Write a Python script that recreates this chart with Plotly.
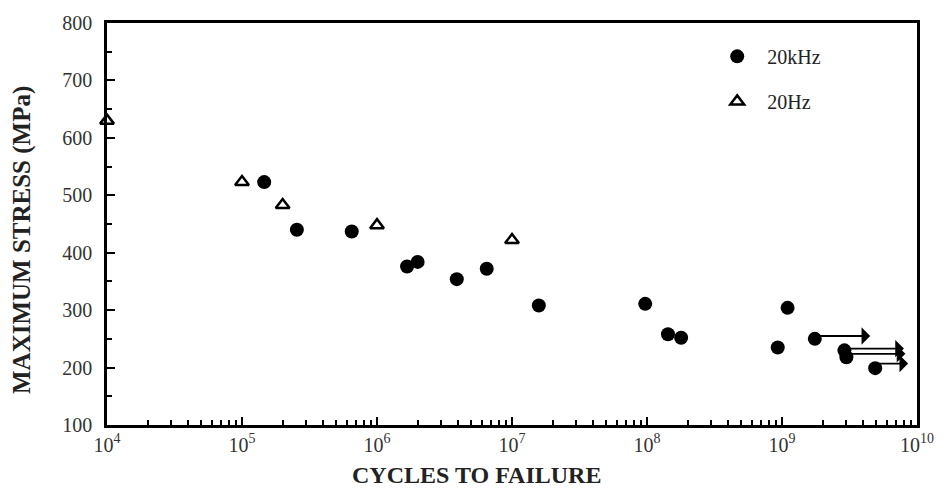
import plotly.graph_objects as go
import math

# ---- data ----
x_20khz = [1.46e5, 2.55e5, 6.5e5, 1.67e6, 2.0e6, 3.9e6, 6.5e6, 1.58e7, 9.7e7,
           1.43e8, 1.79e8, 9.3e8, 1.1e9, 1.75e9, 2.9e9, 3.0e9, 4.9e9]
y_20khz = [523, 440, 437, 376, 384, 354, 372, 308, 311,
           258, 252, 235, 304, 250, 230, 218, 199]

x_20hz = [1e4, 1e5, 2e5, 1e6, 1e7]
y_20hz = [630, 523, 483, 448, 422]

# run-outs (specimens not failed): arrow start / end cycles and stress
runout_x_start = [1.75e9, 2.9e9, 3.0e9, 4.9e9]
runout_x_end = [4.5e9, 8.0e9, 8.2e9, 8.6e9]
runout_y = [255, 233, 224, 207]

x_decades = [4, 5, 6, 7, 8, 9, 10]
x_ticktext = ["10<sup>%d</sup>" % d for d in x_decades]
y_ticks = [100, 200, 300, 400, 500, 600, 700, 800]

FONT = "Liberation Serif"

fig = go.Figure()
fig.add_trace(go.Scatter(
    x=x_20khz, y=y_20khz, mode="markers", name="20kHz",
    marker=dict(symbol="circle", size=14, color="black"),
    cliponaxis=False, legend="legend", showlegend=True))
fig.add_trace(go.Scatter(
    x=x_20hz, y=y_20hz, mode="markers", name="20Hz",
    marker=dict(symbol="triangle-up-open", size=12, color="black",
                line=dict(width=2.5, color="black")),
    cliponaxis=False, legend="legend2", showlegend=True))

annotations = []
for xs, xe, yv in zip(runout_x_start, runout_x_end, runout_y):
    annotations.append(dict(
        x=math.log10(xe), y=yv, ax=math.log10(xs), ay=yv,
        xref="x", yref="y", axref="x", ayref="y",
        showarrow=True, arrowhead=1, arrowsize=1.6, arrowwidth=1.8,
        arrowcolor="black", text=""))

annotations.append(dict(
    text="<b>CYCLES TO FAILURE</b>", xref="paper", yref="paper",
    x=(476 - 107) / 810, y=0, xanchor="center", yanchor="middle",
    yshift=-50, showarrow=False,
    font=dict(family=FONT, size=24, color="#222")))
annotations.append(dict(
    text="<b>MAXIMUM STRESS (MPa)</b>", xref="paper", yref="paper",
    x=0, y=0.49, xanchor="center", yanchor="middle", textangle=-90,
    xshift=-85, yshift=-12, showarrow=False,
    font=dict(family=FONT, size=25, color="#222")))

minor_vals = [k * 10 ** d for d in range(4, 10) for k in range(2, 10)]

legend_common = dict(xanchor="left", yanchor="middle", itemwidth=50,
                     bgcolor="rgba(0,0,0,0)", visible=True,
                     font=dict(family=FONT, size=20, color="#222"))

fig.update_layout(
    width=949, height=493,
    margin=dict(l=107, r=32, t=14, b=68),
    paper_bgcolor="white", plot_bgcolor="white",
    font=dict(family=FONT, size=19, color="#333"),
    showlegend=True,
    annotations=annotations,
    legend=dict(x=0.741, y=0.917, **legend_common),
    legend2=dict(x=0.741, y=0.805, **legend_common),
    xaxis=dict(
        type="log", range=[4, 10],
        tickvals=[10 ** d for d in x_decades], ticktext=x_ticktext,
        ticks="inside", ticklen=8, tickwidth=2, tickcolor="black",
        showline=True, linecolor="black", linewidth=2.5, mirror=True,
        showgrid=False, zeroline=False,
        minor=dict(tickvals=minor_vals, ticks="inside", ticklen=5,
                   tickwidth=1.5, tickcolor="black", showgrid=False),
        tickfont=dict(family=FONT, size=20, color="#333")),
    yaxis=dict(
        range=[100, 800], tickvals=y_ticks,
        ticks="inside", ticklen=8, tickwidth=2, tickcolor="black",
        showline=True, linecolor="black", linewidth=2.5, mirror=True,
        showgrid=False, zeroline=False, ticklabelstandoff=8,
        minor=dict(dtick=50, ticks="inside", ticklen=5, tickwidth=1.5,
                   tickcolor="black", showgrid=False),
        tickfont=dict(family=FONT, size=20, color="#333")),
)

fig.write_html("out.html")
